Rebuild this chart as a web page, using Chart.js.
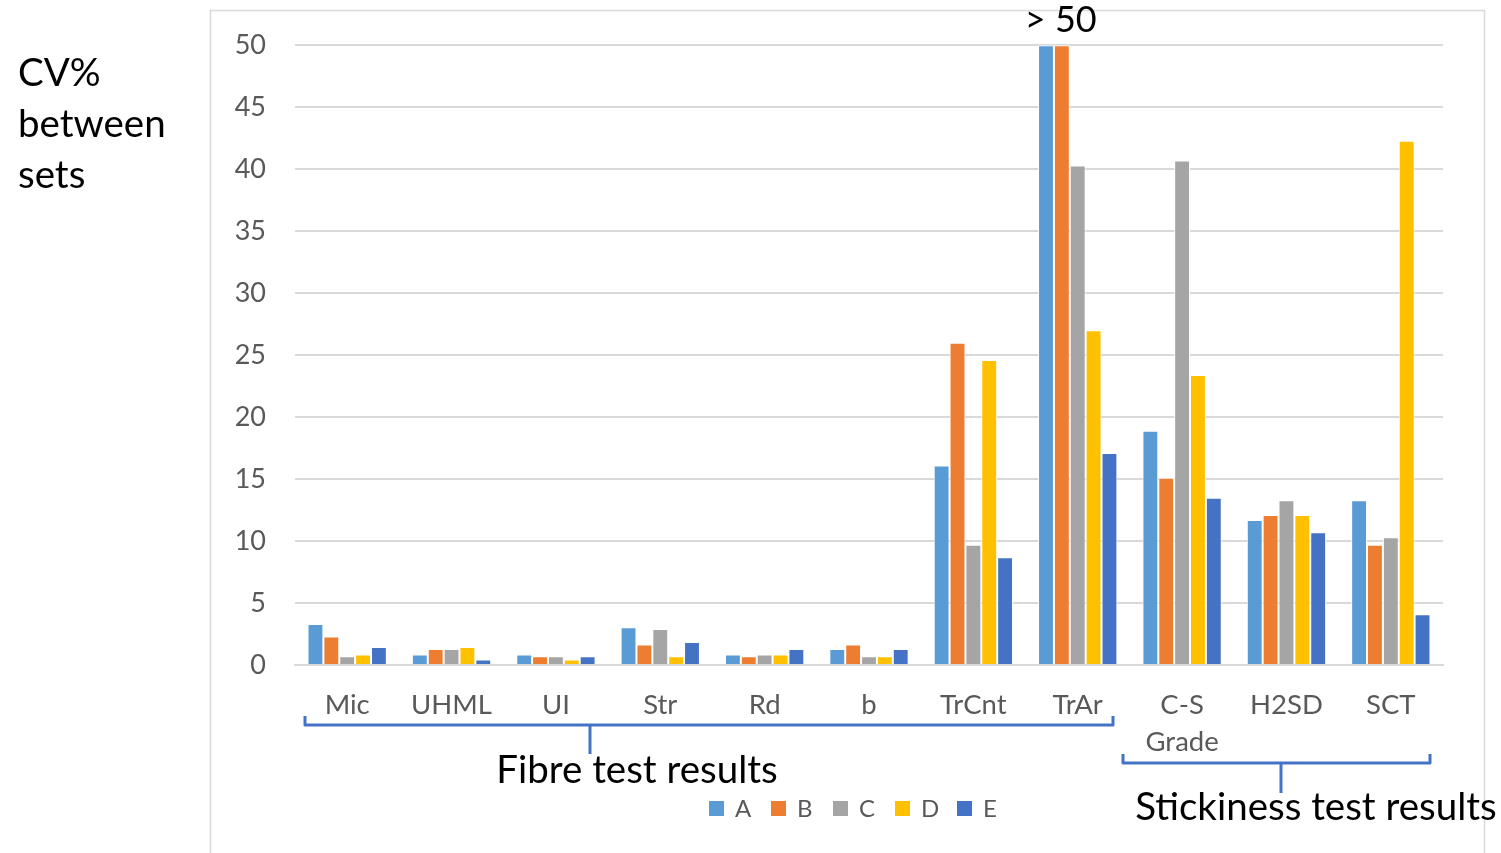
<!DOCTYPE html>
<html>
<head>
<meta charset="utf-8">
<script src="https://cdn.jsdelivr.net/npm/chart.js@4.4.1/dist/chart.umd.min.js"></script>
<style>
  html, body { margin: 0; padding: 0; background: #ffffff; }
  #wrap { width: 1501px; height: 853px; position: relative; }
</style>
</head>
<body>
<div id="wrap"><canvas id="c" width="1501" height="853"></canvas></div>
<script>
// ---- data ----
const categories = ['Mic', 'UHML', 'UI', 'Str', 'Rd', 'b', 'TrCnt', 'TrAr', ['C-S', 'Grade'], 'H2SD', 'SCT'];
const seriesNames = ['A', 'B', 'C', 'D', 'E'];
const seriesA = [3.3, 0.85, 0.85, 3.05, 0.85, 1.3, 16.1, 50, 18.9, 11.7, 13.3];
const seriesB = [2.3, 1.3, 0.7, 1.65, 0.7, 1.65, 26.0, 50, 15.1, 12.1, 9.7];
const seriesC = [0.7, 1.3, 0.7, 2.9, 0.85, 0.7, 9.7, 40.3, 40.7, 13.3, 10.3];
const seriesD = [0.85, 1.45, 0.45, 0.7, 0.85, 0.7, 24.6, 27.0, 23.4, 12.1, 42.3];
const seriesE = [1.45, 0.45, 0.7, 1.85, 1.3, 1.3, 8.7, 17.1, 13.5, 10.7, 4.1];
const yTicks = [0, 5, 10, 15, 20, 25, 30, 35, 40, 45, 50];
const colors = ['#5B9BD5', '#ED7D31', '#A5A5A5', '#FFC000', '#4472C4'];
const allSeries = [seriesA, seriesB, seriesC, seriesD, seriesE];

const FONT = 'Lato, "Open Sans", sans-serif';
const GRAY = '#595959';
const BRACKET = '#4472C4';

const overlay = {
  id: 'overlay',
  beforeDraw(chart) {
    const ctx = chart.ctx;
    ctx.save();
    ctx.strokeStyle = '#D9D9D9';
    ctx.lineWidth = 1.5;
    ctx.beginPath();
    ctx.moveTo(210.5, 853);
    ctx.lineTo(210.5, 10.5);
    ctx.lineTo(1484.5, 10.5);
    ctx.lineTo(1484.5, 853);
    ctx.stroke();
    ctx.restore();
  },
  afterDraw(chart) {
    const ctx = chart.ctx;
    const x = chart.scales.x;
    ctx.save();
    // title
    ctx.fillStyle = '#000';
    ctx.font = '38.5px ' + FONT;
    ctx.textAlign = 'left';
    ctx.textBaseline = 'middle';
    ctx.fillText('CV%', 18, 74);
    ctx.fillText('between', 18, 125);
    ctx.fillText('sets', 18, 176);
    // > 50 over TrAr
    ctx.textAlign = 'center';
    ctx.font = '36px ' + FONT;
    ctx.fillText('> 50', x.getPixelForValue(7) - 17, 20);

    // brackets
    ctx.strokeStyle = BRACKET;
    ctx.lineWidth = 3;
    ctx.lineJoin = 'round';
    ctx.beginPath();
    ctx.moveTo(305, 716); ctx.lineTo(305, 725); ctx.lineTo(1113, 725); ctx.lineTo(1113, 716);
    ctx.stroke();
    ctx.beginPath(); ctx.moveTo(590, 725); ctx.lineTo(590, 754); ctx.stroke();
    ctx.beginPath();
    ctx.moveTo(1123, 754); ctx.lineTo(1123, 763); ctx.lineTo(1430, 763); ctx.lineTo(1430, 754);
    ctx.stroke();
    ctx.beginPath(); ctx.moveTo(1281, 763); ctx.lineTo(1281, 793); ctx.stroke();

    ctx.fillStyle = '#000';
    ctx.font = '38.5px ' + FONT;
    ctx.textAlign = 'center';
    ctx.fillText('Fibre test results', 637, 771);
    ctx.fillText('Stickiness test results', 1316, 808);

    // legend
    ctx.font = '24px ' + FONT;
    ctx.textAlign = 'left';
    seriesNames.forEach((n, i) => {
      const bx = 709 + i * 62;
      ctx.fillStyle = colors[i];
      ctx.fillRect(bx, 801, 15, 15);
      ctx.fillStyle = GRAY;
      ctx.fillText(n, bx + 26, 809);
    });
    ctx.restore();
  }
};

new Chart(document.getElementById('c'), {
  type: 'bar',
  data: {
    labels: categories,
    datasets: seriesNames.map((n, i) => ({
      label: n,
      data: allSeries[i],
      backgroundColor: colors[i],
      borderColor: '#ffffff',
      borderWidth: 1,
      barPercentage: 1.0,
      categoryPercentage: 0.76
    }))
  },
  options: {
    responsive: false,
    animation: false,
    devicePixelRatio: 1,
    layout: { padding: { left: 0, right: 58, top: 44, bottom: 0 } },
    plugins: { legend: { display: false }, tooltip: { enabled: false } },
    scales: {
      x: {
        grid: { display: false, drawTicks: false },
        border: { display: true, color: '#D9D9D9', width: 2 },
        ticks: { color: GRAY, font: { family: FONT, size: 27.5, lineHeight: 1.33 }, padding: 22, maxRotation: 0, autoSkip: false },
        afterFit(s) { s.height = 188; }
      },
      y: {
        min: 0, max: 50,
        afterBuildTicks(s) { s.ticks = yTicks.map(v => ({ value: v })); },
        grid: { color: '#D9D9D9', lineWidth: 2, drawTicks: false },
        border: { display: false },
        ticks: { color: GRAY, font: { family: FONT, size: 27 }, padding: 29 },
        afterFit(s) { s.width = 295; }
      }
    }
  },
  plugins: [overlay]
});
</script>
</body>
</html>
